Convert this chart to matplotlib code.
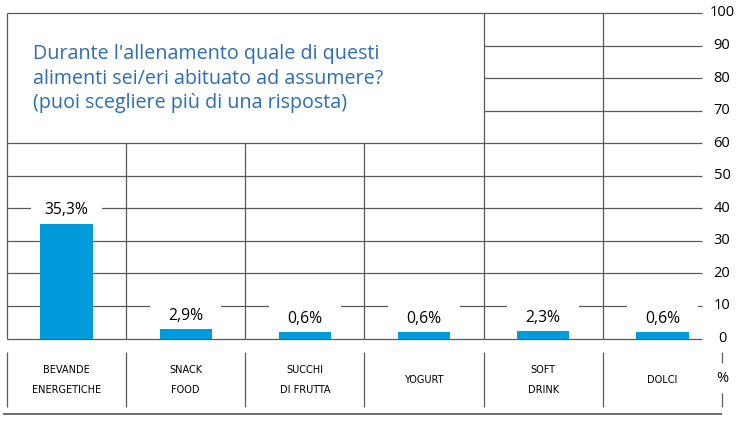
import numpy as np
import matplotlib
matplotlib.use("Agg")
import matplotlib.pyplot as plt

# data
categories = ["BEVANDE\nENERGETICHE", "SNACK\nFOOD", "SUCCHI\nDI FRUTTA",
              "YOGURT", "SOFT\nDRINK", "DOLCI"]
values = [35.3, 2.9, 0.6, 0.6, 2.3, 0.6]
value_labels = ["35,3%", "2,9%", "0,6%", "0,6%", "2,3%", "0,6%"]
y_ticks = [0, 10, 20, 30, 40, 50, 60, 70, 80, 90, 100]
title = ("Durante l'allenamento quale di questi\n"
         "alimenti sei/eri abituato ad assumere?\n"
         "(puoi scegliere più di una risposta)")

BAR_COLOR = "#009bdb"
GRID_COLOR = "#5a5a5a"
TITLE_COLOR = "#2d6db5"

plt.rcParams['font.family'] = ['Open Sans', 'DejaVu Sans']

fig = plt.figure(figsize=(7.42, 4.22), dpi=100)
ax = fig.add_axes([0, 0, 1, 1])
ax.set_xlim(-0.5587, 5.668)
ax.set_ylim(-25.65, 103.99)
ax.axis('off')

x = np.arange(len(categories))
edges = np.arange(len(categories) + 1) - 0.5
grid_end = 5.33

# horizontal grid (the title box hides 70-90 on the left part)
for t in y_ticks:
    start = 3.5 if 60 < t < 100 else -0.5
    ax.hlines(t, start, grid_end, color=GRID_COLOR, lw=0.9, zorder=1)
    ax.text(5.5, t, str(t), ha='center', va='center', fontsize=10.5, color='black')

# vertical grid
for e in edges[:-1]:
    top = 100 if (e < 0 or e > 3) else 60
    ax.vlines(e, 0, top, color=GRID_COLOR, lw=0.9, zorder=1)

# bars (very small values get a minimum visible height like the original)
shown = np.maximum(values, 2.0)
ax.bar(x, shown, width=0.44, color=BAR_COLOR, zorder=3)

# white boxes behind the value labels, then the labels
ax.bar(x, 7.5, bottom=shown + 1.0, width=0.6, color='white', zorder=2)
for xi, v, lab in zip(x, shown, value_labels):
    ax.text(xi, v + 4.1, lab, ha='center', va='center', fontsize=11.3, zorder=4)

# title
ax.text(-0.28, 90.6, title, ha='left', va='top', fontsize=14.2,
        color=TITLE_COLOR, linespacing=1.33)

# category strip under the chart
for e in edges[:-1]:
    ax.vlines(e, -4.2, -21.1, color=GRID_COLOR, lw=0.9, clip_on=False)
ax.vlines(5.5, -4.2, -7.5, color=GRID_COLOR, lw=0.9)
ax.vlines(5.5, -16.8, -21.1, color=GRID_COLOR, lw=0.9)
ax.text(5.5, -12.4, "%", ha='center', va='center', fontsize=10.5)
for xi, cat in zip(x, categories):
    ax.text(xi, -12.6, cat, ha='center', va='center', fontsize=7.8,
            linespacing=2.25, family='DejaVu Sans', fontstretch='condensed')
ax.hlines(-23.3, -0.53, 5.5, color='#6e6e6e', lw=1.4)

fig.savefig("out.png", dpi=100)
